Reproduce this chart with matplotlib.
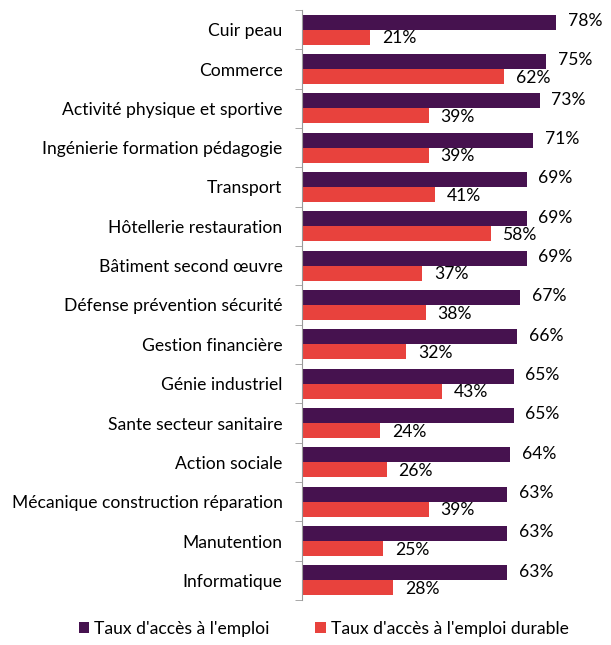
import matplotlib
matplotlib.use("Agg")
import matplotlib.pyplot as plt
import numpy as np

categories = ["Cuir peau", "Commerce", "Activité physique et sportive",
              "Ingénierie formation pédagogie", "Transport", "Hôtellerie restauration",
              "Bâtiment second œuvre", "Défense prévention sécurité", "Gestion financière",
              "Génie industriel", "Sante secteur sanitaire", "Action sociale",
              "Mécanique construction réparation", "Manutention", "Informatique"]
acces_emploi = [78, 75, 73, 71, 69, 69, 69, 67, 66, 65, 65, 64, 63, 63, 63]
acces_durable = [21, 62, 39, 39, 41, 58, 37, 38, 32, 43, 24, 26, 39, 25, 28]
series_names = ["Taux d'accès à l'emploi", "Taux d'accès à l'emploi durable"]

plt.rcParams['font.family'] = ['Lato', 'DejaVu Sans']

fig = plt.figure(figsize=(6.11, 6.45), dpi=100)
ax = fig.add_axes([302/611, 1-600/645, 293/611, 590/645])

n = len(categories)
y = np.arange(n)
h = 0.38
c1 = "#46124f"
c2 = "#e8423d"
fs = 12.6
b1 = ax.barh(y - h/2, acces_emploi, height=h, color=c1, label=series_names[0])
b2 = ax.barh(y + h/2, acces_durable, height=h, color=c2, label=series_names[1])

for yi, v in zip(y, acces_emploi):
    ax.text(v + 3.6, yi - h/2 - 0.03, f"{v}%", va='center', ha='left', fontsize=fs, color='black')
for yi, v in zip(y, acces_durable):
    ax.text(v + 3.6, yi + h/2 + 0.03, f"{v}%", va='center', ha='left', fontsize=fs, color='black')

ax.set_ylim(n - 0.5, -0.5)
ax.set_xlim(0, 90)
ax.set_yticks(y)
ax.set_yticklabels(categories, fontsize=fs)
ax.set_yticks(np.arange(-0.5, n, 1), minor=True)
ax.tick_params(axis='y', which='major', length=0, pad=14)
ax.tick_params(axis='y', which='minor', length=5, color='#9a9a9a', direction='out')
ax.set_xticks([])
for s in ['top', 'right', 'bottom']:
    ax.spines[s].set_visible(False)
ax.spines['left'].set_color('#9a9a9a')

fig.legend(handles=[b1, b2], labels=series_names, loc='lower center',
           bbox_to_anchor=(0.53, -0.012), ncol=2, frameon=False, fontsize=fs,
           handlelength=0.6, handleheight=0.6, handletextpad=0.3, columnspacing=2.6)

fig.savefig("out.png", dpi=100)
